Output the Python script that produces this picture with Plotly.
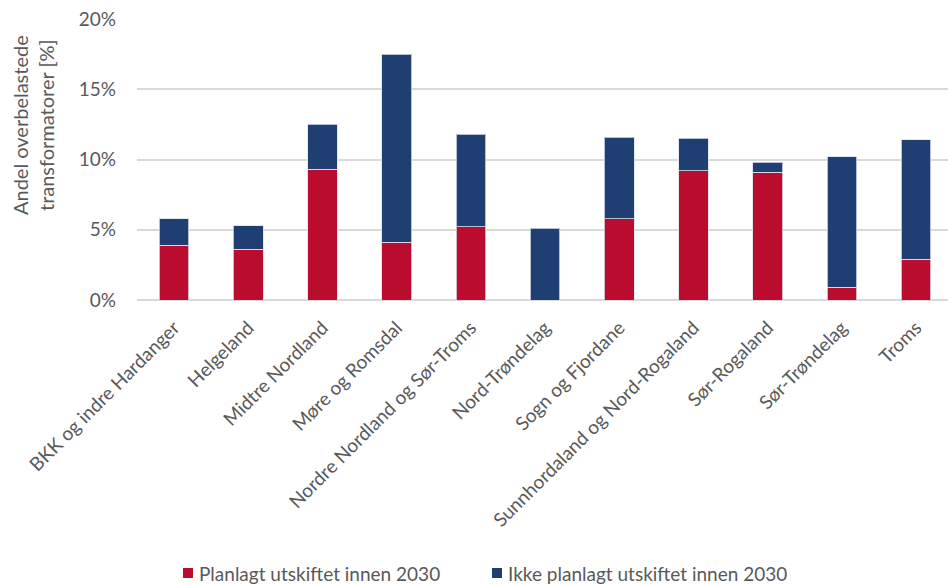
import plotly.graph_objects as go

# Regions (nettområder) and share of overloaded transformers, as fractions
regions = [
    "BKK og indre Hardanger",
    "Helgeland",
    "Midtre Nordland",
    "Møre og Romsdal",
    "Nordre Nordland og Sør-Troms",
    "Nord-Trøndelag",
    "Sogn og Fjordane",
    "Sunnhordaland og Nord-Rogaland",
    "Sør-Rogaland",
    "Sør-Trøndelag",
    "Troms",
]
planned = [0.039, 0.036, 0.093, 0.041, 0.052, 0.0, 0.058, 0.092, 0.091, 0.009, 0.029]
not_planned = [0.019, 0.017, 0.032, 0.134, 0.066, 0.051, 0.058, 0.023, 0.007, 0.093, 0.085]

series_names = ["Planlagt utskiftet innen 2030", "Ikke planlagt utskiftet innen 2030"]
y_ticks = [0, 0.05, 0.10, 0.15, 0.20]
y_tick_labels = ["0%", "5%", "10%", "15%", "20%"]
y_title = "Andel overbelastede<br>transformatorer [%]"

RED = "#BA0C2F"
BLUE = "#1F3F73"
COLORS = [RED, BLUE]
TEXT = "#595959"
FONT = "Lato"

W, H = 948, 584
LEFT, RIGHT, TOP, BOTTOM = 137, 0, 19, 284
PW = W - LEFT - RIGHT
PH = H - TOP - BOTTOM


def px_x(px):
    """Pixel column -> paper x."""
    return (px - LEFT) / PW


def px_y(py):
    """Pixel row -> paper y."""
    return (H - BOTTOM - py) / PH


fig = go.Figure()
for name, vals, col in zip(series_names, [planned, not_planned], COLORS):
    fig.add_trace(go.Bar(
        x=list(range(len(regions))),
        y=vals,
        name=name,
        width=0.40,
        showlegend=False,
        marker=dict(color=col, line=dict(color="rgba(220,225,235,0.8)", width=1)),
    ))

# Legend drawn as small squares with labels below the chart
legend_items = [(183, series_names[0], RED), (492, series_names[1], BLUE)]
shapes = []
annotations = []
for x0, label, col in legend_items:
    shapes.append(dict(
        type="rect", xref="paper", yref="paper",
        x0=px_x(x0), x1=px_x(x0 + 10),
        y0=px_y(578), y1=px_y(568),
        fillcolor=col, line=dict(width=0),
    ))
    annotations.append(dict(
        text=label, xref="paper", yref="paper",
        x=px_x(x0 + 14), y=px_y(573),
        xanchor="left", yanchor="middle",
        showarrow=False,
        font=dict(size=19, color=TEXT, family=FONT),
    ))

annotations.append(dict(
    text=y_title,
    xref="paper", yref="paper",
    x=px_x(33), y=px_y(125),
    xanchor="center", yanchor="middle",
    textangle=-90,
    showarrow=False,
    font=dict(size=20, color=TEXT, family=FONT),
))

fig.update_layout(
    width=W, height=H,
    margin=dict(l=LEFT, r=RIGHT, t=TOP, b=BOTTOM),
    barmode="stack",
    plot_bgcolor="white",
    paper_bgcolor="white",
    font=dict(family=FONT, color=TEXT, size=16),
    showlegend=False,
    xaxis=dict(
        tickmode="array",
        tickvals=list(range(len(regions))),
        ticktext=regions,
        tickangle=-45,
        range=[-0.5, 10.43],
        showgrid=False,
        showline=False,
        ticks="",
        ticklabelstandoff=12,
        tickfont=dict(size=19, color=TEXT),
    ),
    yaxis=dict(
        range=[0, 0.2],
        tickvals=y_ticks,
        ticktext=y_tick_labels,
        showgrid=True,
        gridcolor="#D9D9D9",
        gridwidth=1.5,
        zeroline=True,
        zerolinecolor="#D9D9D9",
        zerolinewidth=1.5,
        ticks="",
        ticklabelstandoff=20,
        tickfont=dict(size=19, color=TEXT),
    ),
    shapes=shapes,
    annotations=annotations,
)

fig.write_html("out.html")
